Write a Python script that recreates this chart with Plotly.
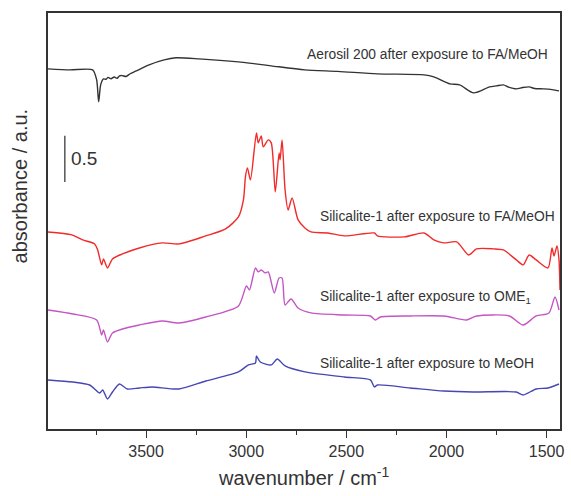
import plotly.graph_objects as go

# ---- data (wavenumber / cm-1, absorbance offset a.u.) ----
aerosil_wn = [3990, 3881, 3767, 3747, 3737, 3727, 3713, 3700, 3690, 3675, 3660, 3645, 3633, 3620, 3600, 3580,
              3549, 3485, 3410, 3351, 3237, 3039, 2954, 2875, 2707, 2543, 2345, 2112, 2063, 1983, 1934, 1864,
              1785, 1750, 1716, 1690, 1651, 1620, 1587, 1560, 1517, 1480, 1438]
aerosil_ab = [3.913, 3.902, 3.902, 3.793, 3.554, 3.739, 3.804, 3.80, 3.82, 3.805, 3.825, 3.81, 3.837, 3.84, 3.83, 3.86,
              3.891, 3.957, 4.011, 4.033, 4.022, 3.989, 3.967, 3.946, 3.902, 3.886, 3.859, 3.848, 3.826, 3.750, 3.739, 3.652,
              3.717, 3.728, 3.739, 3.715, 3.696, 3.710, 3.717, 3.700, 3.696, 3.690, 3.674]

fame_wn = [3990, 3871, 3817, 3757, 3742, 3722, 3713, 3693, 3668, 3618, 3534, 3420, 3336, 3202, 3103, 3039,
           3014, 3004, 2994, 2979, 2949, 2940, 2925, 2915, 2890, 2875, 2855, 2836, 2831, 2821, 2806, 2791,
           2771, 2741, 2707, 2677, 2593, 2509, 2360, 2345, 2211, 2112, 2063, 2013, 1949, 1889, 1850, 1765,
           1716, 1651, 1617, 1587, 1552, 1493, 1473, 1463, 1448, 1438, 1433]
fame_ab = [2.141, 2.109, 2.054, 2.011, 1.946, 1.783, 1.848, 1.750, 1.848, 1.902, 1.967, 2.022, 2.011, 2.098, 2.174, 2.304,
           2.489, 2.739, 2.837, 2.707, 3.217, 3.109, 3.185, 3.065, 3.141, 3.109, 2.576, 3.000, 2.924, 3.141, 2.598, 2.380,
           2.511, 2.272, 2.185, 2.141, 2.130, 2.098, 2.130, 2.098, 2.087, 2.130, 2.054, 2.022, 2.033, 1.891, 1.957, 1.957,
           1.946, 1.837, 1.783, 1.891, 1.837, 1.750, 1.967, 1.880, 1.989, 1.837, 1.511]

ome_wn = [3990, 3866, 3747, 3722, 3713, 3693, 3668, 3618, 3534, 3420, 3336, 3202, 3039, 2999, 2984, 2954,
          2940, 2925, 2905, 2890, 2860, 2836, 2821, 2806, 2776, 2741, 2677, 2509, 2380, 2355, 2330, 2181,
          2013, 1899, 1850, 1686, 1617, 1552, 1488, 1458, 1438]
ome_ab = [1.293, 1.250, 1.185, 1.022, 1.076, 0.946, 1.043, 1.087, 1.130, 1.174, 1.152, 1.217, 1.337, 1.554, 1.511, 1.750,
          1.707, 1.728, 1.696, 1.707, 1.478, 1.641, 1.641, 1.348, 1.413, 1.315, 1.261, 1.239, 1.228, 1.185, 1.217, 1.228,
          1.228, 1.185, 1.228, 1.228, 1.130, 1.228, 1.261, 1.435, 1.293]

meoh_wn = [3990, 3866, 3782, 3732, 3717, 3693, 3668, 3633, 3594, 3534, 3470, 3336, 3202, 3039, 2989, 2954,
           2949, 2930, 2875, 2845, 2806, 2707, 2509, 2380, 2360, 2345, 2181, 2013, 1864, 1652, 1617, 1552,
           1493, 1438]
meoh_ab = [0.533, 0.511, 0.478, 0.391, 0.424, 0.326, 0.402, 0.489, 0.435, 0.446, 0.457, 0.435, 0.522, 0.620, 0.696, 0.717,
           0.793, 0.728, 0.696, 0.761, 0.685, 0.620, 0.565, 0.533, 0.457, 0.478, 0.446, 0.413, 0.402, 0.402, 0.370, 0.435,
           0.446, 0.489]

labels = ["Aerosil 200 after exposure to FA/MeOH",
          "Silicalite-1 after exposure to FA/MeOH",
          "Silicalite-1 after exposure to OME<sub>1</sub>",
          "Silicalite-1 after exposure to MeOH"]
label_y = [4.065, 2.304, 1.424, 0.717]

x_range = [3990, 1433]
y_range = [0, 4.52]
tick_vals = [3500, 3000, 2500, 2000, 1500]
scale_bar = [2.685, 3.185]
scale_x = 3906

FONT = "Arial, Liberation Sans, sans-serif"
TXT = "#333333"

fig = go.Figure()
series = [(aerosil_wn, aerosil_ab, "#333333"),
          (fame_wn, fame_ab, "#f22a2a"),
          (ome_wn, ome_ab, "#c455c4"),
          (meoh_wn, meoh_ab, "#4646b4")]
for wn, ab, col in series:
    fig.add_trace(go.Scatter(x=wn, y=ab, mode="lines",
                             line=dict(color=col, width=1.4, shape="spline", smoothing=0.7),
                             showlegend=False, hoverinfo="skip"))

# curve labels
fig.add_annotation(x=1483, y=label_y[0], text=labels[0], showarrow=False, xanchor="right",
                   yanchor="middle", font=dict(family=FONT, size=13.8, color=TXT))
for t, yv in zip(labels[1:], label_y[1:]):
    fig.add_annotation(x=2642, y=yv, text=t, showarrow=False, xanchor="left",
                       yanchor="middle", font=dict(family=FONT, size=13.8, color=TXT))

# scale bar
fig.add_shape(type="line", x0=scale_x, x1=scale_x, y0=scale_bar[0], y1=scale_bar[1],
              line=dict(color="#555555", width=1.5))
fig.add_annotation(x=scale_x, y=(scale_bar[0] + scale_bar[1]) / 2, text="0.5", showarrow=False,
                   xanchor="left", xshift=4, yanchor="middle", font=dict(family=FONT, size=19, color=TXT))

# axis titles
fig.add_annotation(xref="paper", yref="paper", x=0.5, y=-0.115, text="wavenumber / cm<sup>-1</sup>",
                   showarrow=False, xanchor="center", yanchor="middle",
                   font=dict(family=FONT, size=20, color=TXT))
fig.add_annotation(xref="paper", yref="paper", x=-0.054, y=0.584, text="absorbance / a.u.",
                   showarrow=False, textangle=-90, xanchor="center", yanchor="middle",
                   font=dict(family=FONT, size=20, color=TXT))

fig.update_layout(
    width=571, height=496,
    margin=dict(l=48, r=7, t=13, b=67),
    paper_bgcolor="white", plot_bgcolor="white",
    xaxis=dict(range=x_range, tickvals=tick_vals, ticks="outside", ticklen=7, tickwidth=1.3,
               tickcolor="#333333", showline=True, linecolor="#333333", linewidth=1.5, mirror=True,
               showgrid=False, zeroline=False,
               tickfont=dict(family=FONT, size=16, color=TXT),
               minor=dict(tickvals=[3750, 3250, 2750, 2250, 1750], ticks="outside", ticklen=4,
                          tickcolor="#333333", tickwidth=1.3, showgrid=False)),
    yaxis=dict(range=y_range, showticklabels=False, ticks="", showline=True, linecolor="#333333",
               linewidth=1.5, mirror=True, showgrid=False, zeroline=False),
)

fig.write_html("out.html")
